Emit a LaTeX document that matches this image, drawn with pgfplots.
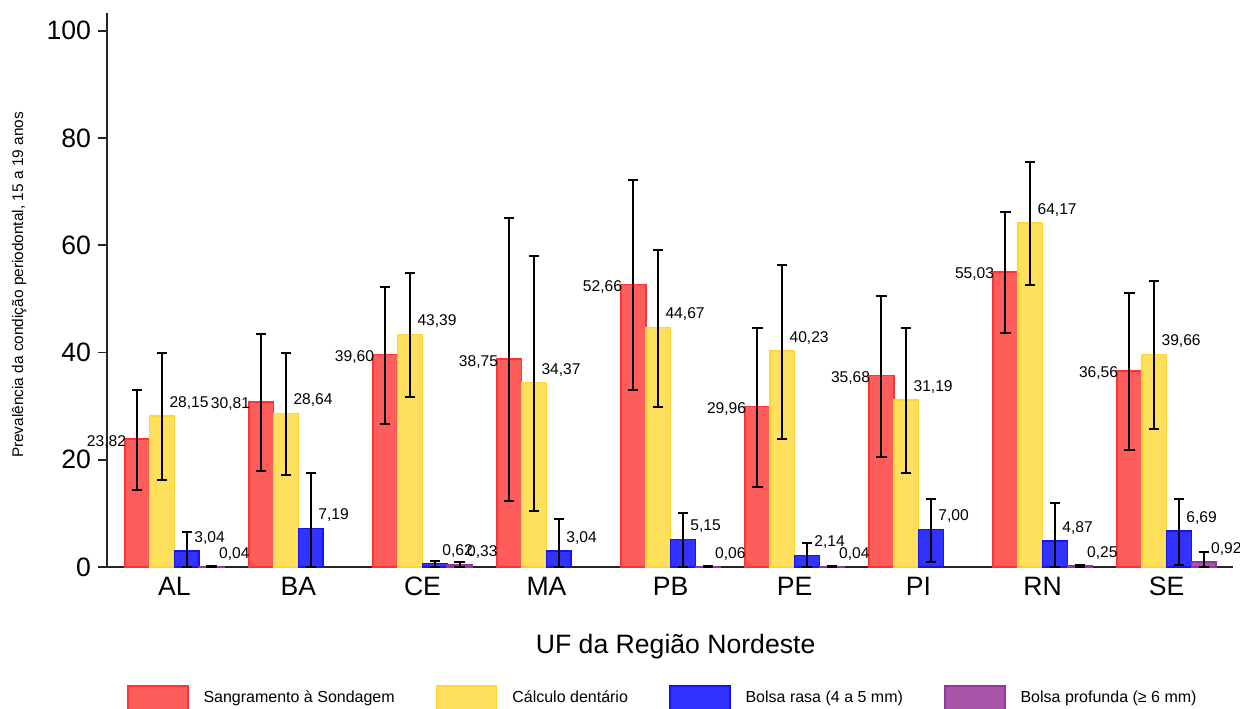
\documentclass[border=0pt]{standalone}
\usepackage{pgfplots}
\pgfplotsset{compat=1.18}
\usepackage{pgfplotstable}
\usepackage{fontspec}
\setmainfont{Liberation Sans}
\definecolor{cRed}{HTML}{FF5C5C}
\definecolor{cRedE}{HTML}{FF3333}
\definecolor{cYel}{HTML}{FFE05C}
\definecolor{cYelE}{HTML}{FFD633}
\definecolor{cBlu}{HTML}{3333FF}
\definecolor{cBluE}{HTML}{1414F0}
\definecolor{cPur}{HTML}{A855A8}
\definecolor{cPurE}{HTML}{9933A0}

% x = category index (AL BA CE MA PB PE PI RN SE), y = prevalence, ep/em = error plus/minus
\pgfplotstableread{
x y ep em
0 23.82 9.18 9.42
1 30.81 12.69 12.91
2 39.60 12.60 12.90
3 38.75 26.35 26.45
4 52.66 19.54 19.66
5 29.96 14.64 14.96
6 35.68 14.92 15.18
7 55.03 11.17 11.43
8 36.56 14.54 14.76
}\redtab
\pgfplotstableread{
x y ep em
0 28.15 11.75 11.95
1 28.64 11.26 11.44
2 43.39 11.51 11.69
3 34.37 23.63 23.97
4 44.67 14.43 14.77
5 40.23 16.07 16.33
6 31.19 13.41 13.69
7 64.17 11.43 11.57
8 39.66 13.74 13.96
}\yeltab
\pgfplotstableread{
x y ep em
0 3.04 3.46 3.04
1 7.19 10.31 7.19
2 0.62 0.48 0.62
3 3.04 5.96 3.04
4 5.15 4.85 5.15
5 2.14 2.36 2.14
6 7.00 5.70 6.00
7 4.87 7.03 4.87
8 6.69 6.01 6.29
}\blutab
\pgfplotstableread{
x y ep em
0 0.04 0.06 0.04
2 0.33 0.57 0.33
4 0.06 0.09 0.06
5 0.04 0.06 0.04
7 0.25 0.15 0.25
8 0.92 1.88 0.92
}\purtab

\pgfplotsset{
  myleg/.style={legend image code/.code={\draw[##1,line width=0.8pt] (0pt,-6pt) rectangle (30pt,6pt);}},
  myerr/.style={error bars/.cd, y dir=both, y explicit,
    error bar style={line width=1pt, black},
    error mark options={rotate=90, mark size=2.6pt, line width=1pt, black},
    /pgfplots/.cd},
  lblright/.style={nodes near coords,
    every node near coord/.append style={anchor=west, xshift=0pt, yshift=6.5pt,
      font=\fontsize{7.8}{9}\selectfont, text=black}},
}

\begin{document}
\begin{tikzpicture}
\begin{axis}[
  at={(0,0)}, anchor=south west,
  width=563pt, height=277pt, scale only axis,
  xmin=-0.544, xmax=8.536, ymin=0, ymax=103.3,
  ybar=0pt, bar width=0.2,
  clip=false,
  axis x line*=bottom, axis y line*=left,
  axis line style={-, black!85, line width=0.9pt},
  xtick={0,...,8},
  xticklabels={AL,BA,CE,MA,PB,PE,PI,RN,SE},
  xtick style={draw=none},
  ytick={0,20,...,100},
  ytick style={black!85, line width=0.9pt},
  tick align=outside, major tick length=4.5pt,
  /pgf/number format/assume math mode=true,
  ticklabel style={font=\fontsize{13.3}{16}\selectfont},
  xticklabel style={yshift=3pt},
  /pgf/number format/.cd, fixed, fixed zerofill, precision=2, use comma, 1000 sep={},
  /pgfplots/.cd,
  yticklabel={\pgfmathprintnumber[fixed, precision=0, fixed zerofill=false]{\tick}},
  xlabel={UF da Região Nordeste},
  xlabel style={at={(axis description cs:0.505,-0.144)}, anchor=center, font=\fontsize{13.3}{16}\selectfont},
  ylabel={Prevalência da condição periodontal, 15 a 19 anos},
  ylabel style={at={(axis description cs:-0.078,0.509)}, anchor=center, font=\fontsize{7.7}{9}\selectfont},
  legend columns=4,
  legend cell align=left,
  legend style={at={(axis description cs:0.012,-0.236)}, anchor=west, draw=none, fill=none,
    font=\fontsize{8}{10}\selectfont,
    /tikz/every odd column/.append style={column sep=5.5pt},
    /tikz/every even column/.append style={column sep=18.5pt}},
]
\addplot+[ybar, bar shift=-0.3, fill=cRed, draw=cRedE, line width=0.8pt, myleg,
  myerr, nodes near coords,
  every node near coord/.append style={anchor=east, xshift=-1.9pt, yshift=-1.2pt,
      font=\fontsize{7.8}{9}\selectfont, text=black}]
  table[x=x, y=y, y error plus=ep, y error minus=em] {\redtab};
\addlegendentry{Sangramento à Sondagem}
\addplot+[ybar, bar shift=-0.1, fill=cYel, draw=cYelE, line width=0.8pt, myleg, myerr, lblright]
  table[x=x, y=y, y error plus=ep, y error minus=em] {\yeltab};
\addlegendentry{Cálculo dentário}
\addplot+[ybar, bar shift=0.1, fill=cBlu, draw=cBluE, line width=0.8pt, myleg, myerr, lblright]
  table[x=x, y=y, y error plus=ep, y error minus=em] {\blutab};
\addlegendentry{Bolsa rasa (4 a 5 mm)}
\addplot+[ybar, bar shift=0.3, fill=cPur, draw=cPurE, line width=0.8pt, myleg, myerr, lblright]
  table[x=x, y=y, y error plus=ep, y error minus=em] {\purtab};
\addlegendentry{Bolsa profunda (≥ 6 mm)}
\end{axis}
\pgfresetboundingbox
\path[use as bounding box] (-53.5pt,-70.5pt) rectangle (566.5pt,283.5pt);
\end{tikzpicture}
\end{document}
